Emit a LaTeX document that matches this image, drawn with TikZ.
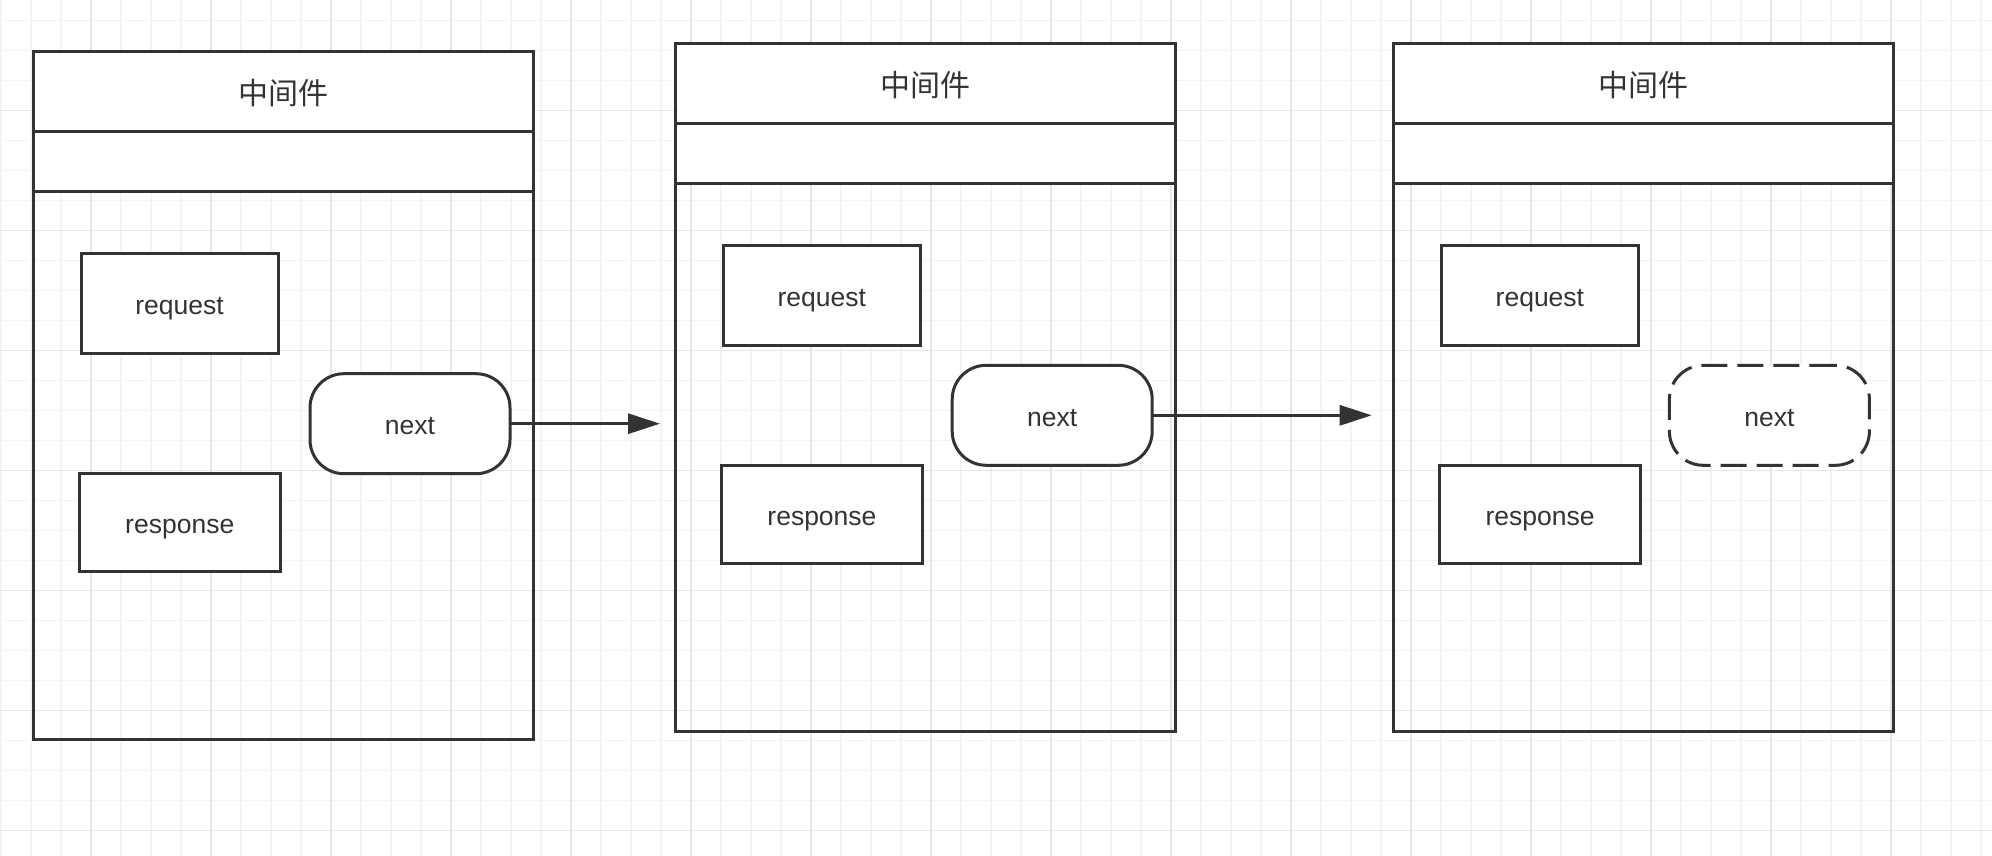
\documentclass[tikz,border=0pt]{standalone}
\usepackage{fontspec}
\setmainfont{Liberation Sans}
\newfontfamily\cjk{Noto Sans CJK SC}
\usetikzlibrary{arrows.meta}
\definecolor{ink}{HTML}{333333}
\definecolor{gridminor}{HTML}{F3F3F3}
\definecolor{gridmajor}{HTML}{E6E6E6}
\begin{document}
\begin{tikzpicture}[x=1pt,y=-1pt,
  box/.style={draw=ink,line width=3pt,fill=white,inner sep=0pt,outer sep=0pt,anchor=north west,minimum width=500pt},
  hdr/.style={box,minimum height=80pt,font=\cjk\fontsize{30}{36}\selectfont,text=ink,text height=26pt,text depth=0pt},
  stripbox/.style={box,minimum height=60pt},
  bodybox/.style={box,fill=none,minimum height=548pt},
  item/.style={draw=ink,line width=3pt,fill=white,inner sep=0pt,outer sep=0pt,anchor=north west,font=\fontsize{26.5}{32}\selectfont,text=ink,text height=22pt,text depth=0pt},
  reqbox/.style={item,minimum width=197pt,minimum height=100pt},
  resbox/.style={item,minimum width=201.5pt,minimum height=98pt},
  nextnode/.style={item,rounded corners=34pt,minimum width=200pt,minimum height=100pt},
  flow/.style={draw=ink,line width=3pt,-{Triangle[length=32pt,width=20pt]}}
]
\useasboundingbox (0,0) rectangle (1992,856);
\fill[white] (0,0) rectangle (1992,856);
% grid
\foreach \x in {1,31,...,1991} \draw[gridminor,line width=1.5pt] (\x,0) -- (\x,856);
\foreach \y in {20.5,50.5,...,850.5} \draw[gridminor,line width=1.5pt] (0,\y) -- (1992,\y);
\foreach \x in {91,211,...,1891} \draw[gridmajor,line width=1.5pt] (\x,0) -- (\x,856);
\foreach \y in {110.5,230.5,...,830.5} \draw[gridmajor,line width=1.5pt] (0,\y) -- (1992,\y);

% box 1
\node[hdr] (h1) at (33.5,51.7) {中间件};
\node[stripbox] (s1) at (33.5,131.7) {};
\node[bodybox] (b1) at (33.5,191.7) {};
\node[reqbox] (rq1) at (81,253.7) {request};
\node[resbox] (rs1) at (79,473.9) {response};
\node[nextnode] (n1) at (310,373.7) {next};

% box 2
\node[hdr] (h2) at (675.7,43.3) {中间件};
\node[stripbox] (s2) at (675.7,123.3) {};
\node[bodybox] (b2) at (675.7,183.3) {};
\node[reqbox] (rq2) at (723.2,245.3) {request};
\node[resbox] (rs2) at (721.2,465.5) {response};
\node[nextnode] (n2) at (952.2,365.3) {next};

% box 3
\node[hdr] (h3) at (1393.9,43.3) {中间件};
\node[stripbox] (s3) at (1393.9,123.3) {};
\node[bodybox] (b3) at (1393.9,183.3) {};
\node[reqbox] (rq3) at (1441.4,245.3) {request};
\node[resbox] (rs3) at (1439.4,465.5) {response};
\node[nextnode,dash pattern=on 26pt off 10pt] (n3) at (1669.4,365.3) {next};

% connectors
\coordinate (t1) at (660,423.7);
\coordinate (t2) at (1371.7,415.3);
\draw[flow] (n1.east) -- (t1);
\draw[flow] (n2.east) -- (t2);
\end{tikzpicture}
\end{document}
